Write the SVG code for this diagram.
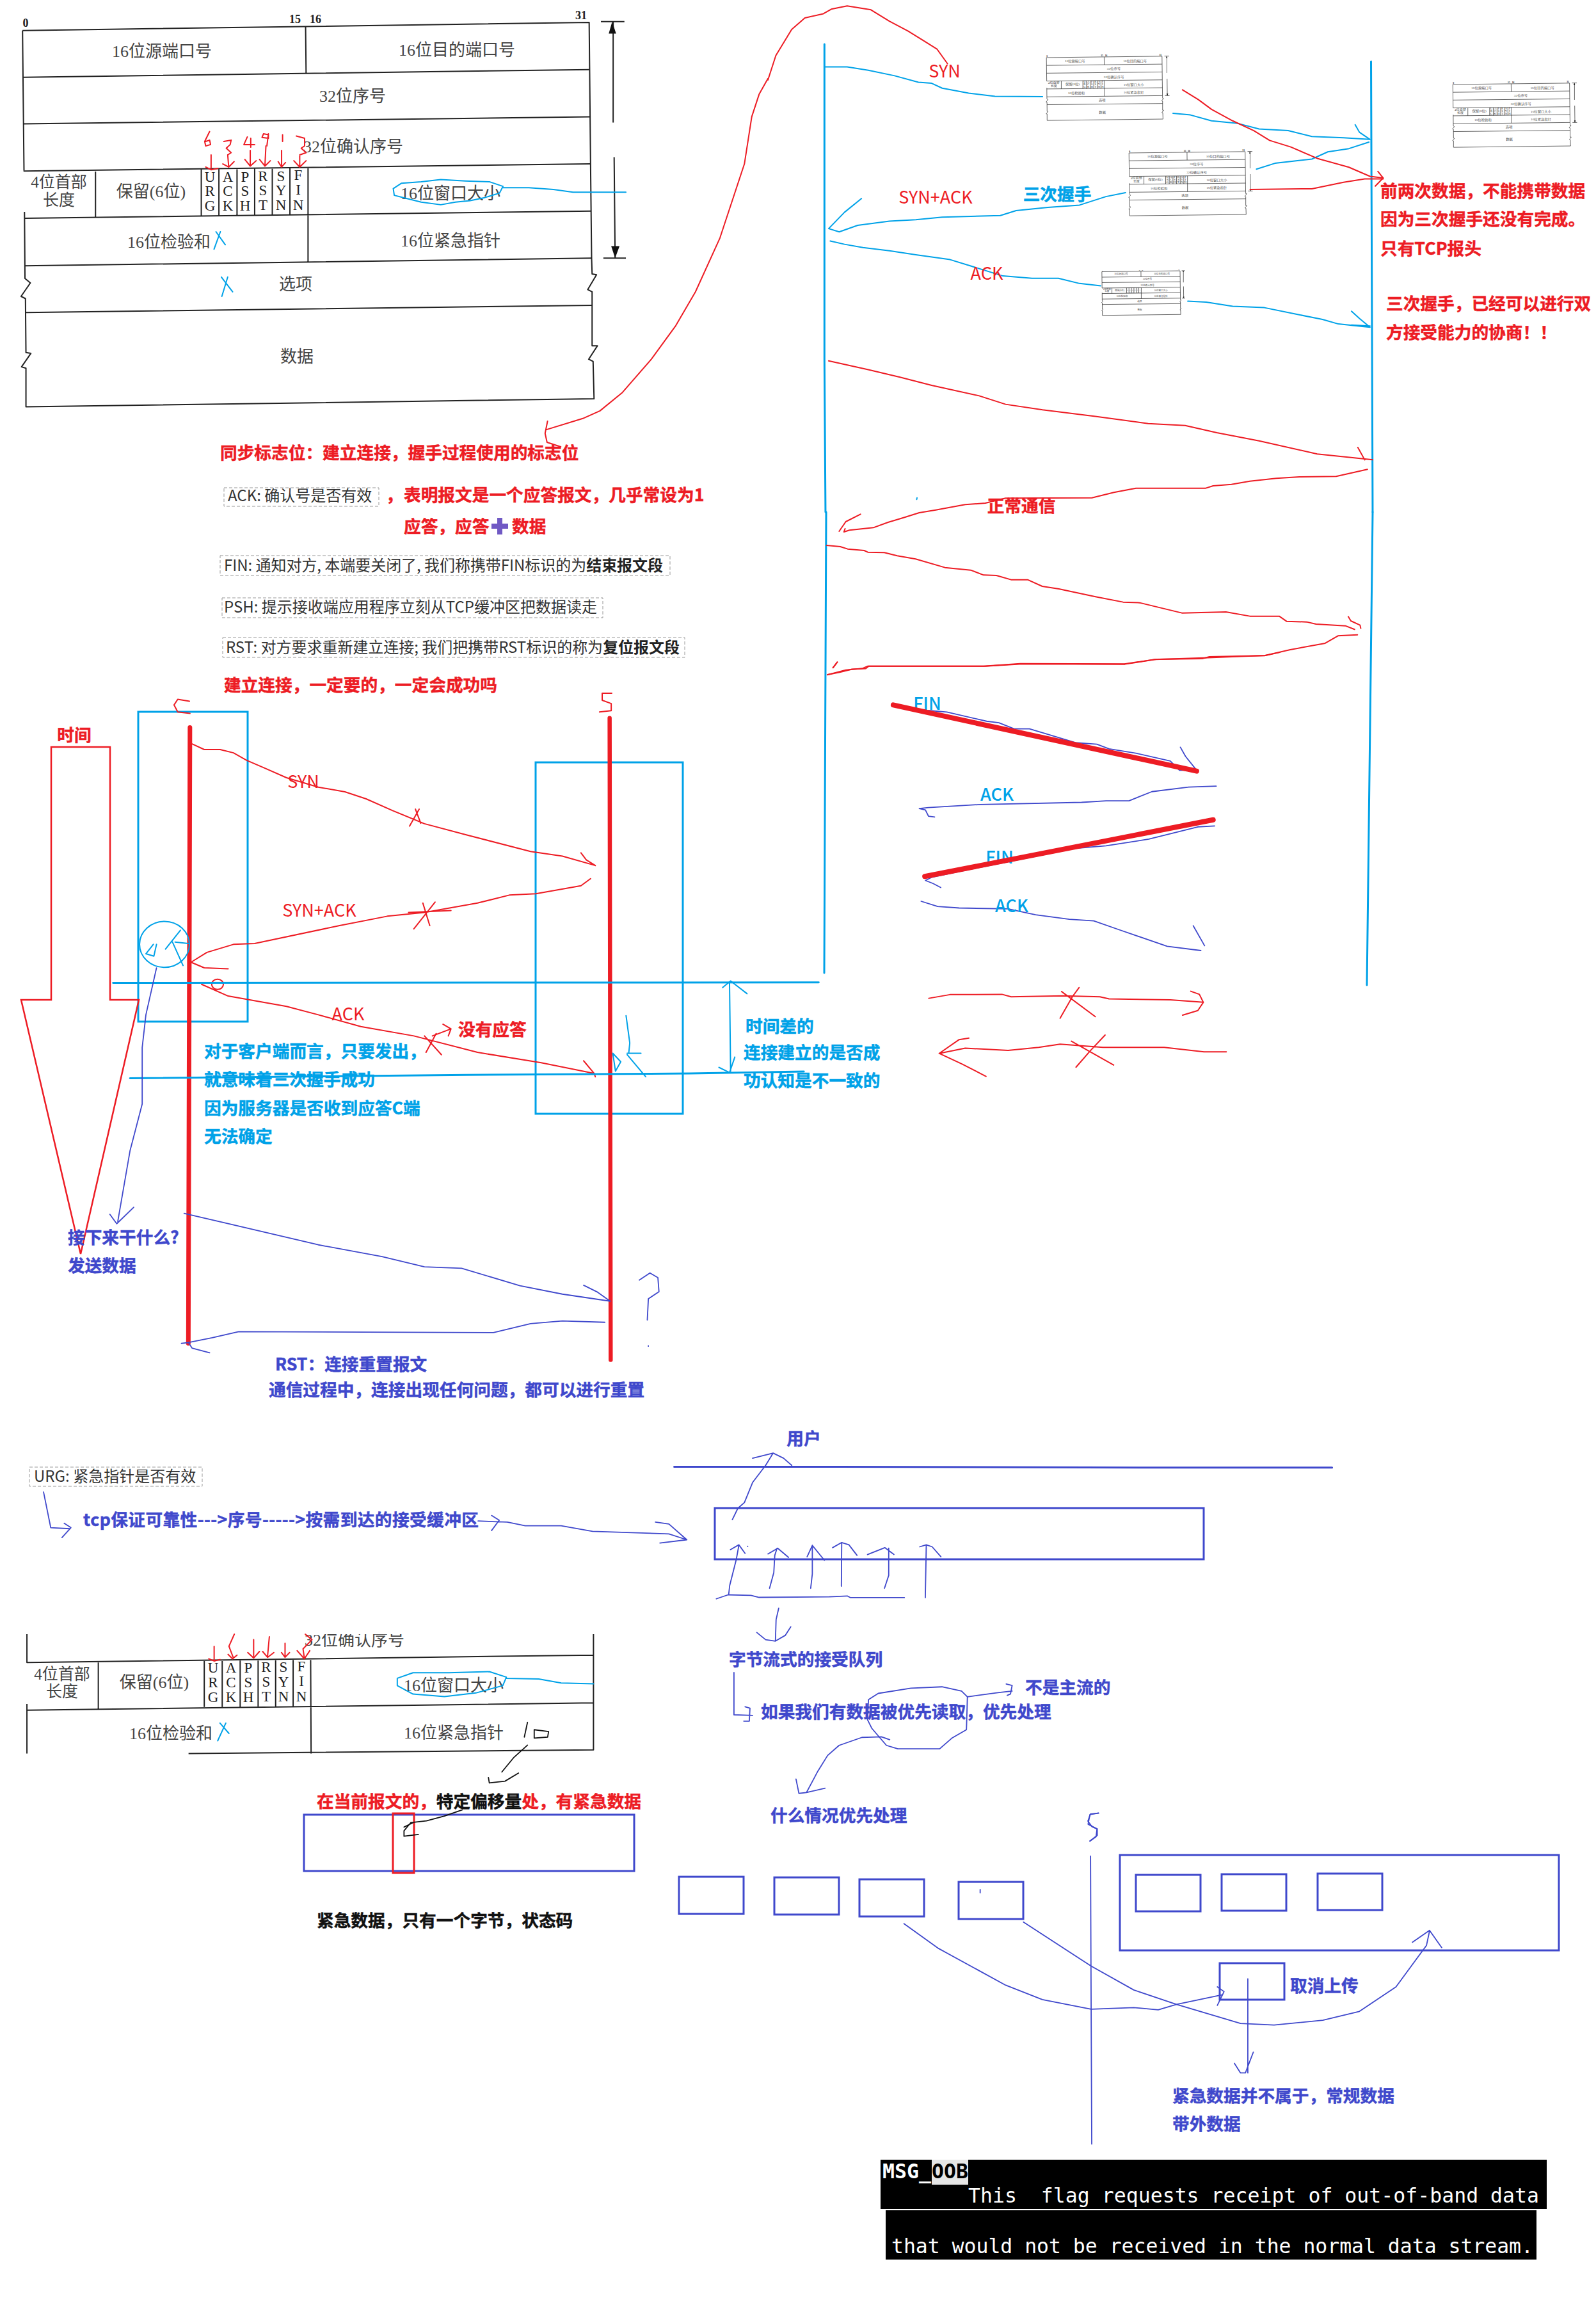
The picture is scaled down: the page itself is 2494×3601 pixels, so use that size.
<svg xmlns="http://www.w3.org/2000/svg" width="2494" height="3601" viewBox="0 0 2494 3601">
<style>
text{font-family:"Noto Sans CJK SC","Noto Sans",sans-serif}
path,rect,circle,ellipse{vector-effect:non-scaling-stroke}
.s path,.s circle,.s ellipse{fill:none;stroke-linecap:round;stroke-linejoin:round}
.sr{stroke:#ed1c24;stroke-width:2}
.sb{stroke:#00a2e8;stroke-width:2}
.si{stroke:#3f48cc;stroke-width:1.8}
.sk{stroke:#111;stroke-width:1.8}
.bl3{stroke:#00a2e8;stroke-width:3}
.in3{fill:none;stroke:#3f48cc;stroke-width:3}
.br{fill:none;stroke:#00a2e8;stroke-width:3}
.thick{stroke:#ed1c24}
.tl{fill:none;stroke:#222;stroke-width:var(--tw,2);stroke-linejoin:round}
.tf{fill:#111;stroke:none}
.tb{font-family:"Liberation Serif","Noto Sans CJK SC",serif;font-size:26px;fill:#444;text-anchor:middle}
.sm{font-size:25px}
.fl{font-size:23px;fill:#222}
.nm{font-size:18px;font-weight:700;fill:#222}
.h{font-size:26.7px;font-weight:700;stroke-width:.5px}
.lb{font-size:27px}
.r{fill:#ed1c24}.c{fill:#00a2e8}.i{fill:#3f48cc}.k{fill:#111}
.h.r{stroke:#ed1c24}.h.c{stroke:#00a2e8}.h.i{stroke:#3f48cc}.h.k{stroke:#111}
.h .k{fill:#111;stroke:#111}
.note{font-size:24px;fill:#333}
.bd{font-weight:700;fill:#222}
.dash{fill:none;stroke:#999;stroke-width:1;stroke-dasharray:5 3}
.mono{font-family:"DejaVu Sans Mono","Liberation Mono",monospace;font-size:31.5px;fill:#fff}
.mid{text-anchor:middle}
</style>
<defs>
<clipPath id="crop"><rect x="0" y="2553" width="1000" height="200"/></clipPath>
</defs>
<rect width="2494" height="3601" fill="#fff"/>

<g id="tcp-header">
<g transform="matrix(.7653 0 0 .7015 0 0)">
<path class="tl" d="M46,68L1203,50L1206,380L1208,575L1209,610L1218,612L1200,645L1209,650L1209,770L1220,770L1202,800L1211,805L1213,888L53,906L53,820L44,817L63,787L53,785L52,665L43,660L62,630L51,620L50,472M46,68L49,380"/>
<path class="tl" d="M48,172L1203,155M48,276L1205,260M48,381L1205,365M50,486L1207,470M51,592L1208,575M52,696L1209,680M624,60L625,163M195,382L195,484M411,377L411,481M447,377L447,481M484,377L484,480M520,376L520,480M556,376L556,479M592,375L592,479M629,375L629,583"/>
<path class="tl" d="M1227,48L1275,48M1252,48L1252,273M1254,350L1256,575M1232,575L1278,575"/>
<path class="tf" d="M1250,48L1243,75L1258,75ZM1256,575L1248,548L1265,548Z"/>
</g>
<text class="tb nm" x="40" y="42">0</text>
<text class="tb nm" x="461" y="36">15</text>
<text class="tb nm" x="493" y="36">16</text>
<text class="tb nm" x="908" y="30">31</text>
<text class="tb" x="253" y="89">16位源端口号</text>
<text class="tb" x="714" y="87">16位目的端口号</text>
<text class="tb" x="551" y="159">32位序号</text>
<text class="tb" x="552" y="238">32位确认序号</text>
<text class="tb sm" x="92" y="293">4位首部</text>
<text class="tb sm" x="92" y="321">长度</text>
<text class="tb" x="236" y="308">保留(6位)</text>
<text class="tb fl" x="328" y="284">U</text><text class="tb fl" x="328" y="306">R</text><text class="tb fl" x="328" y="329">G</text>
<text class="tb fl" x="356" y="284">A</text><text class="tb fl" x="356" y="306">C</text><text class="tb fl" x="356" y="329">K</text>
<text class="tb fl" x="383" y="284">P</text><text class="tb fl" x="383" y="306">S</text><text class="tb fl" x="383" y="329">H</text>
<text class="tb fl" x="411" y="283">R</text><text class="tb fl" x="411" y="305">S</text><text class="tb fl" x="411" y="328">T</text>
<text class="tb fl" x="439" y="283">S</text><text class="tb fl" x="439" y="305">Y</text><text class="tb fl" x="439" y="328">N</text>
<text class="tb fl" x="466" y="281">F</text><text class="tb fl" x="466" y="304">I</text><text class="tb fl" x="466" y="328">N</text>
<text class="tb" x="704" y="311">16位窗口大小</text>
<text class="tb" x="264" y="387">16位检验和</text>
<text class="tb" x="704" y="385">16位紧急指针</text>
<text class="tb" x="462" y="453">选项</text>
<text class="tb" x="464" y="566">数据</text>
</g>

<g id="tcp-mini-1" style="--tw:.7"><use href="#tcp-header" transform="matrix(.204 0 0 .167 1628 82)"/></g>
<g id="tcp-mini-2" style="--tw:.7"><use href="#tcp-header" transform="matrix(.205 0 0 .167 1757 231)"/></g>
<g id="tcp-mini-3" style="--tw:.7"><use href="#tcp-header" transform="matrix(.138 0 0 .116 1717 419)"/></g>
<g id="tcp-mini-4" style="--tw:.7"><use href="#tcp-header" transform="matrix(.206 0 0 .167 2263 124)"/></g>

<g id="tcp-header-2">
<g clip-path="url(#crop)">
<text class="tb" x="554" y="2571">32位确认序号</text>
</g>
<g transform="matrix(.7015 0 0 .574 0 2200)">
<path class="tl" d="M60,615L60,692L1322,672L1322,615M1322,672L1322,930L420,940M60,805L60,940M60,822L1322,802M219,692L219,818M455,688L455,813M495,688L495,813M535,687L535,813M575,687L575,812M614,686L614,812M653,685L653,811M692,685L693,940"/>
</g>
<text class="tb sm" x="97" y="2624">4位首部</text>
<text class="tb sm" x="97" y="2651">长度</text>
<text class="tb" x="241" y="2637">保留(6位)</text>
<text class="tb fl" x="333" y="2613">U</text><text class="tb fl" x="333" y="2636">R</text><text class="tb fl" x="333" y="2659">G</text>
<text class="tb fl" x="361" y="2613">A</text><text class="tb fl" x="361" y="2636">C</text><text class="tb fl" x="361" y="2659">K</text>
<text class="tb fl" x="388" y="2613">P</text><text class="tb fl" x="388" y="2636">S</text><text class="tb fl" x="388" y="2659">H</text>
<text class="tb fl" x="416" y="2612">R</text><text class="tb fl" x="416" y="2635">S</text><text class="tb fl" x="416" y="2658">T</text>
<text class="tb fl" x="443" y="2612">S</text><text class="tb fl" x="443" y="2635">Y</text><text class="tb fl" x="443" y="2658">N</text>
<text class="tb fl" x="471" y="2611">F</text><text class="tb fl" x="471" y="2634">I</text><text class="tb fl" x="471" y="2658">N</text>
<text class="tb" x="709" y="2642">16位窗口大小</text>
<text class="tb" x="267" y="2717">16位检验和</text>
<text class="tb" x="709" y="2716">16位紧急指针</text>
</g>

<g id="fin-labels">
<text class="lb c mid" style="font-weight:500" x="1449" y="1109">FIN</text>
<text class="lb c mid" style="font-weight:500" x="1562" y="1349">FIN</text>
</g>

<g id="client-server">
<rect id="client-box" class="br" x="216" y="1112" width="171" height="484"/>
<rect id="server-box" class="br" x="837" y="1191" width="230" height="549"/>
<path id="time-arrow" fill="none" stroke="#ed1c24" stroke-width="2.5" d="M80,1562L80,1167L172,1167L172,1562L217,1562L126,1959L33,1562Z"/>
</g>

<g id="packet-boxes">
<rect id="buffer" class="in3" x="1117" y="2356" width="764" height="80"/>
<rect id="urgent-bar" class="in3" x="475" y="2835" width="516" height="88"/>
<rect id="urgent-byte" fill="none" stroke="#ed1c24" stroke-width="3" x="614" y="2833" width="33" height="93"/>
<rect id="q1" class="in3" x="1061" y="2932" width="101" height="58"/>
<rect id="q2" class="in3" x="1210" y="2933" width="101" height="58"/>
<rect id="q3" class="in3" x="1343" y="2936" width="101" height="58"/>
<rect id="q4" class="in3" x="1498" y="2940" width="101" height="58"/>
<rect id="r-queue" class="in3" x="1750" y="2898" width="686" height="149"/>
<rect id="r1" class="in3" x="1775" y="2929" width="101" height="57"/>
<rect id="r2" class="in3" x="1909" y="2928" width="101" height="57"/>
<rect id="r3" class="in3" x="2059" y="2927" width="101" height="57"/>
<rect id="oob-box" class="in3" x="1906" y="3067" width="101" height="57"/>
</g>

<g id="connectors" class="s">
<g transform="matrix(.7653 0 0 .7015 0 0)">
<path class="sr" d="M1118,938L1113,965L1117,985L1145,995M1115,957L1190,932L1225,915L1270,875L1330,800L1380,725L1420,650L1470,530L1520,365L1535,260L1550,210L1568,175"/>
<path class="sr" d="M428,293L418,315L420,325L430,322L428,312L420,315M457,315L472,312L470,322L462,330L472,340L465,345M505,305L498,322L520,322M512,308L512,328M548,300L538,298L535,306L548,308L548,298L545,325M577,300L577,315M605,303L622,308L622,325L615,330L625,340L612,345"/>
<path class="sr" d="M431,345L431,375M420,372L431,378L445,375M465,345L467,372M455,365L467,372L478,360M511,335L511,368M500,355L511,370L523,358M543,325L541,368M530,355L541,370L552,358M575,335L575,370M568,360L575,372L583,362M612,348L612,372M600,358L612,372L625,358"/>
<path class="sb" d="M1027,415L1000,405L950,403L900,400L860,405L820,408L803,420L805,435L830,442L860,450L900,456L930,450L960,447L990,440L1020,430L1027,415M1027,418L1080,418L1130,422L1170,428L1278,428"/>
<path class="sb" d="M441,516L460,545M450,516L437,555M452,617L475,650M465,617L453,660"/>
</g>
<g transform="matrix(.8253 0 0 .5102 1200 0)">
<path class="sr" d="M0,245L15,170L45,90L70,55L105,42L120,28L150,18L195,30L230,65L265,95L290,120L320,150L340,195"/>
<path class="bl3" d="M107,135L107,1100L109,1568"/>
<path class="bl3" d="M1142,188L1145,1568"/>
<path class="sb" d="M107,205L150,205L190,215L240,232L285,252L310,255L330,270L380,285L430,295L520,296"/>
<path class="sb" d="M767,347L800,352L840,370L890,378L930,395L985,400L1030,418L1090,422L1140,427L1120,405L1112,382M925,518L960,500L1030,487L1060,465L1100,455L1138,435"/>
<path class="sb" d="M677,590L640,602L590,628L530,635L470,645L440,660L330,665L280,673L230,677L170,690L135,710L115,700L145,650L177,608"/>
<path class="sb" d="M118,738L145,748L180,758L230,768L280,780L345,795L385,815L445,845L500,852L550,852L590,868L630,875"/>
<path class="sb" d="M795,922L830,925L880,938L940,942L1000,962L1050,978L1080,992L1140,1002L1120,975L1105,953M1105,995L1140,998"/>
<path class="sr" d="M785,275L815,305L840,335L880,370L920,400L950,430L990,450L1040,485L1100,512L1140,540L1165,545L1155,525M1165,545L1150,570"/>
<path class="sr" d="M913,580L1030,578L1090,558L1130,548L1165,548"/>
<path class="sr" d="M115,1105L190,1132L250,1155L310,1180L400,1212L450,1238L520,1255L620,1275L720,1297L790,1303L850,1325L930,1350L1040,1390L1145,1408M1117,1370L1130,1408"/>
</g>
<path class="bl3" d="M2145,800L2136,1539"/>
<path class="bl3" d="M1291,800L1288,1520"/>
<g transform="matrix(.574 0 0 .3333 1270 700)">
<path class="sr" d="M1510,100L1425,133L1325,135L1262,142L1190,155L1140,170L1090,177L1070,188L880,188L820,208L760,233L525,235L470,258L415,265L335,290L290,303L250,325L205,348L165,373L100,385L85,393L88,378M72,390L90,345L130,310"/>
<path class="sr" d="M38,456L75,462L95,473L140,480L150,488L195,490L230,505L280,520L360,560L430,572L465,595L500,597L540,617L585,617L625,648L670,660L770,697L845,722L890,725L1005,773L1075,770L1125,768L1190,788L1270,788L1290,812L1345,815L1370,825L1450,833L1475,850M1458,790L1465,810L1490,830L1492,845"/>
<path class="sr" d="M1483,875L1430,880L1395,915L1300,945L1230,973L1080,978L1060,987L935,990L850,1013L570,1012L470,1022L150,1022L135,1033L90,1040L40,1063M55,1030L67,1003"/>
<path class="sb" stroke-width="3" d="M284,233L283,241"/>
</g>
<g transform="matrix(.8291 0 0 .7334 0 1050)">
<path class="thick" stroke-width="7" d="M358,118L355,1430"/>
<path class="thick" stroke-width="6.5" d="M1149,98L1151,1465"/>
<path class="sr" d="M357,62L335,58L328,70L335,85L358,88M1153,45L1135,45L1135,60L1152,67L1152,82L1130,85"/>
<path class="sr" d="M362,153L385,165L415,165L440,172L465,188L500,205L540,225L600,245L650,255L690,270L740,295L800,323L880,347L1000,382L1060,392L1122,412M1095,385L1105,400L1122,412M790,292L772,328M783,292L793,322"/>
<path class="sr" d="M1113,440L1095,455L1010,472L960,475L900,492L800,512L730,520L640,540L480,578L440,580L390,597L360,618L385,630L430,632M820,490L780,547M797,492L810,540M770,512L850,508"/>
<path class="sr" d="M380,665L430,690L540,712L600,730L680,755L780,775L900,810L1020,832L1120,855M1100,828L1120,855L1122,862M800,775L832,815M822,770L803,810M815,775L850,760L835,750M850,760L845,775"/>
<ellipse class="sr" cx="410" cy="665" rx="11" ry="11"/>
<ellipse class="sb" cx="310" cy="580" rx="47" ry="49"/>
<path class="sb" d="M289,580L275,600L290,605L295,580M340,550L312,590M325,575L345,625M330,575L355,578"/>
<path class="bl3" d="M213,662L1543,661M245,865L880,858L1300,855L1515,851"/>
<path class="sb" stroke-width="1.5" d="M1375,662L1377,850M1362,672L1377,658L1408,685M1355,842L1375,853L1385,820"/>
<path class="sb" d="M1180,732L1187,790L1185,812M1182,812L1208,812M1155,812L1170,830L1160,850L1155,812M1182,815L1217,862"/>
<path class="si" d="M295,630L275,730L268,800L268,920L245,1020L222,1170M207,1155L220,1175L252,1140"/>
<path class="si" d="M347,1153L430,1175L600,1220L720,1245L800,1267L870,1270L980,1307L1060,1325L1150,1340M1100,1306L1125,1320L1150,1340"/>
<path class="si" d="M1140,1385L1060,1382L1000,1388L930,1407L450,1405L400,1418L355,1428M342,1430L355,1428L362,1440L395,1450"/>
<path class="si" d="M1205,1295L1225,1280L1240,1290L1242,1320L1222,1335L1220,1380M1222,1435L1222,1436"/>
</g>
<g transform="matrix(.4783 0 0 .4783 1250 1000)">
<path class="sr" d="M90,113L130,105L170,95L215,93L225,85L600,85L720,77L1060,78L1160,63L1320,58L1520,50L1568,40M108,90L122,72"/>
<path class="si" d="M420,230L480,235L610,265L650,270L700,290L750,290L900,335L970,340L1010,355L1100,370L1210,395L1240,425L1290,425M1243,350L1260,380L1292,420"/>
<path class="si" d="M1360,477L1270,480L1150,495L1075,525L1000,525L920,530L590,537L420,547L390,550L410,555L420,575L440,578"/>
<path class="si" d="M1355,607L1300,610L1140,650L1000,672L900,680L500,760L430,775L410,785L435,795L460,808"/>
<path class="si" d="M396,853L450,870L520,875L680,878L770,897L880,912L960,917L1040,945L1200,1000L1310,1014M1285,933L1322,998"/>
<path class="thick" stroke-width="8" d="M305,212L1296,428"/>
<path class="thick" stroke-width="8" d="M408,772L1350,587"/>
<path class="sr" d="M421,1170L490,1158L660,1157L690,1165L860,1162L980,1165L1010,1172L1210,1175L1318,1183M1277,1147L1305,1157L1318,1183L1300,1210L1250,1225M855,1148L965,1230M912,1135L890,1165L850,1235"/>
<path class="sr" d="M1393,1345L1320,1345L1190,1330L990,1330L850,1320L780,1330L680,1340L540,1333L455,1350M552,1300L520,1305L455,1350L530,1385L608,1425M887,1310L1025,1388M997,1290L950,1340L902,1395"/>
</g>
<g transform="matrix(.7015 0 0 .574 0 2200)">
<path class="sr" d="M477,648L477,685M465,682L477,688L490,684M522,615L510,648L520,680M508,670L518,682L528,672M565,630L565,675M552,665L565,680L578,662M600,622L596,675M585,662L596,678L610,665M635,640L635,675M627,665L635,678L645,665M680,615L695,630L675,655L678,680M662,660L678,682L690,660"/>
<path class="sb" d="M1128,732L1090,717L1000,720L920,720L885,735L885,755L920,778L990,785L1060,775L1120,755L1128,732M1128,735L1200,737L1250,748L1322,750"/>
<path class="sb" d="M490,857L510,885M503,857L485,905"/>
<path class="sk" d="M1175,855L1168,895M1190,875L1222,880L1220,895L1190,898ZM1175,917L1145,950L1118,990M1088,1005L1090,1020L1125,1015L1155,993"/>
<path class="sk" d="M1030,1093L990,1110L950,1123L915,1128L900,1150L900,1165L932,1160M920,1128L900,1140"/>
<path class="si" d="M97,228L113,325L155,328M143,313L158,325L138,352"/>
<path class="si" d="M1065,307L1130,310L1170,320L1250,320L1320,335L1490,342L1530,358M1460,310L1490,315L1530,358L1470,367M1095,292L1112,305L1095,333"/>
</g>
<g transform="matrix(.5102 0 0 .4464 1000 2200)">
<path class="in3" d="M105,205L607,205L1568,208L2120,208"/>
<path class="si" d="M283,390L300,350L320,330L345,260L385,200L408,157M345,175L408,157L440,175L465,200"/>
<path class="si" d="M272,650L275,620L295,530L303,480M277,495L303,478L322,508M330,483L330,484"/>
<path class="si" d="M397,630L410,575L413,515L420,490M392,510L422,490L455,522"/>
<path class="si" d="M523,630L528,580L528,480M512,520L528,480L565,532"/>
<path class="si" d="M617,623L618,470M590,488L618,470L640,478L665,515"/>
<path class="si" d="M749,630L762,585L762,490M697,512L750,488L778,512"/>
<path class="si" d="M874,663L877,480M857,485L877,478L895,485L922,520"/>
<path class="si" d="M234,667L270,653L340,655L365,662L580,660L635,657L645,663L810,663"/>
<path class="si" d="M425,700L417,740L415,815M358,785L385,810L415,815L445,795L462,765"/>
<path class="si" d="M288,925L288,1073L345,1075M322,1045L337,1050L335,1095L318,1095"/>
<path class="si" d="M1003,1010L985,990L925,975L830,980L730,998L700,1020L697,1090L710,1120L755,1180L790,1192L918,1192L955,1155L1000,1125L1003,1010"/>
<path class="si" d="M1003,1010L1100,995L1140,990M1122,965L1140,970L1135,1000L1125,1005"/>
<path class="si" d="M765,1160L740,1150L680,1152L610,1180L575,1215L545,1270L510,1345M478,1298L487,1348L510,1345L567,1330"/>
<path class="si" d="M1405,1417L1380,1420L1372,1445L1385,1465L1400,1472L1397,1500L1378,1515"/>
</g>
<g transform="matrix(.9528 0 0 .4981 1000 2820)">
<path class="si" d="M739,160L740,640L741,1063"/>
<path class="si" d="M433,372L490,450L600,565L660,610L740,640L810,635L850,642L880,625L955,595M947,570L958,585L947,628"/>
<path class="si" d="M629,367L740,505L810,580L880,625L985,685L1040,690L1120,675L1180,647L1240,570L1290,440L1295,395M1267,430L1295,393L1315,447"/>
<path class="si" d="M997,545L997,840M975,810L985,840L993,840L1006,775"/>
<path class="si" d="M752,25L738,30L735,60L750,75L750,95L738,113"/>
<path class="si" d="M558,265L558,275"/>
</g>
<path d="M781,809V835M768,822H794" stroke="#7059c4" stroke-width="8" fill="none" style="stroke-linecap:butt"/>
</g>

<g id="labels-flags">
<text class="h r" x="344" y="717">同步标志位&#xFF1A;建立连接&#xFF0C;握手过程使用的标志位</text>
<rect class="dash" x="350" y="762" width="242" height="29"/>
<text class="note" x="356" y="783">ACK: 确认号是否有效</text>
<text class="h r" x="603" y="783">&#xFF0C;</text>
<text class="h r" x="631" y="783">表明报文是一个应答报文&#xFF0C;几乎常设为1</text>
<text class="h r" x="631" y="832">应答&#xFF0C;应答</text>
<text class="h r" x="800" y="832">数据</text>
<rect class="dash" x="344" y="868" width="703" height="31"/>
<text class="note" x="350" y="892" textLength="686">FIN: 通知对方, 本端要关闭了, 我们称携带FIN标识的为<tspan class="bd">结束报文段</tspan></text>
<rect class="dash" x="347" y="934" width="595" height="31"/>
<text class="note" x="350" y="957" textLength="583">PSH: 提示接收端应用程序立刻从TCP缓冲区把数据读走</text>
<rect class="dash" x="348" y="996" width="722" height="31"/>
<text class="note" x="353" y="1020" textLength="709">RST: 对方要求重新建立连接; 我们把携带RST标识的称为<tspan class="bd">复位报文段</tspan></text>
<text class="h r" x="350" y="1080">建立连接&#xFF0C;一定要的&#xFF0C;一定会成功吗</text>
</g>

<g id="labels-handshake">
<text class="lb r mid" x="1476" y="121">SYN</text>
<text class="lb r mid" x="1462" y="318">SYN+ACK</text>
<text class="h c mid" x="1652" y="313">三次握手</text>
<text class="lb r mid" x="1542" y="437">ACK</text>
<text class="h r" x="2157" y="308">前两次数据&#xFF0C;不能携带数据</text>
<text class="h r" x="2157" y="352">因为三次握手还没有完成。</text>
<text class="h r" x="2157" y="398">只有TCP报头</text>
<text class="h r" x="2166" y="484">三次握手&#xFF0C;已经可以进行双</text>
<text class="h r" x="2166" y="529">方接受能力的协商&#xFF01;&#xFF01;</text>
<text class="h r mid" x="1596" y="800">正常通信</text>
<text class="lb c mid" style="font-weight:500" x="1558" y="1251">ACK</text>
<text class="lb c mid" style="font-weight:500" x="1581" y="1425">ACK</text>
</g>

<g id="labels-timeline">
<text class="h r mid" x="116" y="1158">时间</text>
<text class="lb r mid" x="474" y="1231">SYN</text>
<text class="lb r mid" x="499" y="1432">SYN+ACK</text>
<text class="lb r mid" x="544" y="1594">ACK</text>
<text class="h r" x="716" y="1618">没有应答</text>
<text class="h c" x="319" y="1652">对于客户端而言&#xFF0C;只要发出&#xFF0C;</text>
<text class="h c" x="319" y="1696">就意味着三次握手成功</text>
<text class="h c" x="319" y="1741">因为服务器是否收到应答C端</text>
<text class="h c" x="319" y="1785">无法确定</text>
<text class="h c" x="1165" y="1613">时间差的</text>
<text class="h c" x="1162" y="1654">连接建立的是否成</text>
<text class="h c" x="1162" y="1698">功认知是不一致的</text>
<text class="h i" x="106" y="1943">接下来干什么?</text>
<text class="h i" x="106" y="1987">发送数据</text>
<text class="h i" x="430" y="2141">RST&#xFF1A;连接重置报文</text>
<text class="h i" x="420" y="2181">通信过程中&#xFF0C;连接出现任何问题&#xFF0C;都可以进行重置</text>
</g>

<g id="labels-urgent">
<rect class="dash" x="46" y="2292" width="270" height="30"/>
<text class="note" x="53" y="2315">URG: 紧急指针是否有效</text>
<text class="h i" x="130" y="2384" textLength="618">tcp保证可靠性---&gt;序号-----&gt;按需到达的接受缓冲区</text>
<text class="h r" x="495" y="2824">在当前报文的&#xFF0C;<tspan class="k">特定偏移量</tspan>处&#xFF0C;有紧急数据</text>
<text class="h k" x="495" y="3010">紧急数据&#xFF0C;只有一个字节&#xFF0C;状态码</text>
<text class="h i mid" x="1256" y="2257">用户</text>
<text class="h i" x="1139" y="2602">字节流式的接受队列</text>
<text class="h i" x="1189" y="2684">如果我们有数据被优先读取&#xFF0C;优先处理</text>
<text class="h i" x="1602" y="2646">不是主流的</text>
<text class="h i" x="1204" y="2846">什么情况优先处理</text>
<text class="h i" x="2016" y="3112">取消上传</text>
<text class="h i" x="1832" y="3284">紧急数据并不属于&#xFF0C;常规数据</text>
<text class="h i" x="1832" y="3328">带外数据</text>
</g>

<g id="man-page">
<rect x="1376" y="3374" width="1041" height="77" fill="#000"/>
<rect x="1384" y="3453" width="1017" height="77" fill="#000"/>
<rect x="1456" y="3374" width="57" height="39" fill="#e6e6e6"/>
<text class="mono" style="font-weight:700" x="1379" y="3403">MSG_</text>
<text class="mono" style="font-weight:700;fill:#000" x="1456" y="3403">OOB</text>
<text class="mono" x="1513" y="3441" textLength="892" xml:space="preserve">This  flag requests receipt of out-of-band data</text>
<text class="mono" x="1393" y="3520" textLength="1003">that would not be received in the normal data stream.</text>
</g>
</svg>
